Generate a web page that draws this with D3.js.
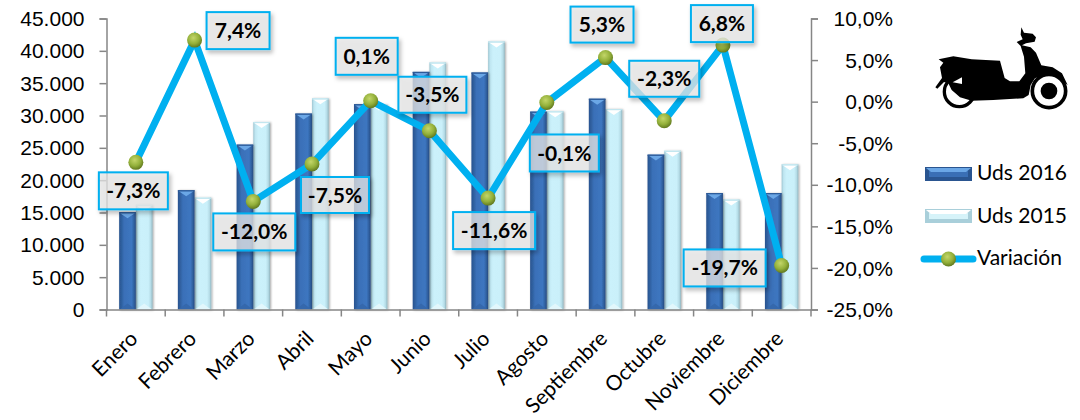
<!DOCTYPE html>
<html>
<head>
<meta charset="utf-8">
<script src="https://cdn.jsdelivr.net/npm/d3@7"></script>
<style>
  html, body { margin: 0; padding: 0; background: #fff; }
  svg { display: block; font-family: Lato, "Open Sans", sans-serif; }
  .tick-label { font-size: 21px; fill: #000; }
  .cat-label { font-size: 21px; fill: #000; }
  .legend-label { font-size: 21px; fill: #000; }
  .value-label { font-size: 21px; font-weight: 700; fill: #000; }
</style>
</head>
<body>
<div id="chart"></div>
<script>
// Data
const months = ['Enero', 'Febrero', 'Marzo', 'Abril', 'Mayo', 'Junio', 'Julio', 'Agosto', 'Septiembre', 'Octubre', 'Noviembre', 'Diciembre'];
const uds2016 = [15050, 18450, 25500, 30300, 31750, 36750, 36650, 30600, 32600, 23950, 18000, 18000];
const uds2015 = [16200, 17300, 29000, 32650, 31700, 38200, 41450, 30650, 31000, 24550, 17000, 22450];
const variacion = [-7.3, 7.4, -12.0, -7.5, 0.1, -3.5, -11.6, -0.1, 5.3, -2.3, 6.8, -19.7];
const leftTicks = [0, 5000, 10000, 15000, 20000, 25000, 30000, 35000, 40000, 45000];
const rightTicks = [-25, -20, -15, -10, -5, 0, 5, 10];

// Label box offset from its marker, left/top/right/bottom (the boxes were dragged by hand in the original)
const labelBoxes = [
  [-37, 10, 32, 47], [12, -28, 75, 9], [-40, 12, 42, 49], [-11, 13, 57, 49],
  [-35, -63, 27, -26], [-31, -54, 37, -18], [-35, 14, 47, 51], [-17, 32, 52, 69],
  [-35, -51, 28, -15], [-35, -60, 35, -24], [-32, -40, 30, -3], [-98, -16, -16, 21]
];

const W = 1080, H = 420;
const plot = { left: 106.5, right: 811, top: 18.5, bottom: 309.5 };

const svg = d3.select('#chart').append('svg').attr('width', W).attr('height', H);
const defs = svg.append('defs');

function hGrad(id, stops) {
  const g = defs.append('linearGradient').attr('id', id);
  stops.forEach(s => g.append('stop').attr('offset', s[0]).attr('stop-color', s[1]));
}
hGrad('bar16', [[0, '#2a5390'], [0.14, '#2f609f'], [0.3, '#3a70b8'], [0.75, '#3d76c0'], [0.9, '#2f5f9e'], [1, '#26497e']]);
hGrad('bar15', [[0, '#9fc6d2'], [0.12, '#bfe6f1'], [0.3, '#cbf1fb'], [0.75, '#caf0fa'], [0.9, '#b4dbe6'], [1, '#8fb3bd']]);

const ball = defs.append('radialGradient').attr('id', 'ball').attr('cx', '42%').attr('cy', '35%').attr('r', '65%');
ball.append('stop').attr('offset', 0).attr('stop-color', '#c3d669');
ball.append('stop').attr('offset', 0.6).attr('stop-color', '#93b03a');
ball.append('stop').attr('offset', 1).attr('stop-color', '#627a1f');

const shadow = defs.append('filter').attr('id', 'boxShadow')
  .attr('x', '-20%').attr('y', '-20%').attr('width', '150%').attr('height', '150%');
shadow.append('feDropShadow').attr('dx', 2).attr('dy', 3).attr('stdDeviation', 2)
  .attr('flood-color', '#000').attr('flood-opacity', 0.3);

const barShadow = defs.append('filter').attr('id', 'barShadow')
  .attr('x', '-30%').attr('y', '-5%').attr('width', '160%').attr('height', '110%');
barShadow.append('feDropShadow').attr('dx', 1).attr('dy', 0.5).attr('stdDeviation', 0.8)
  .attr('flood-color', '#000').attr('flood-opacity', 0.35);

// Scales
const x = d3.scaleBand().domain(months).range([plot.left, plot.right]);
const inner = d3.scaleBand().domain(['u16', 'u15']).range([0, 33.4]);
const barOffset = (x.bandwidth() - inner.range()[1]) / 2;
const yLeft = d3.scaleLinear().domain([0, 45000]).range([plot.bottom, plot.top]);
const yRight = d3.scaleLinear().domain([-25, 10]).range([plot.bottom, plot.top]);

const numLocale = d3.formatLocale({ decimal: ',', thousands: '.', grouping: [3], currency: ['', ''], minus: '-' });
const fmtUds = numLocale.format(',.0f');
const fmtPct = numLocale.format('.1f');

const palette = {
  u16: { fill: 'url(#bar16)', body: '#3a6fb5', top: '#6ba7e6', bottom: '#3568ac', edge: '#2c5a98', low: '#2a5590' },
  u15: { fill: 'url(#bar15)', body: '#d6f3f9', top: '#ffffff', bottom: '#e2f7fc', edge: '#c2e6ef', low: '#a9cfda' }
};

// Bevelled column like the Office "3D" shape style
function bevelBar(sel, bx, by, bw, bh, kind) {
  const c = palette[kind];
  const bevel = Math.min(bw / 2, 6);
  sel.append('rect').attr('x', bx).attr('y', by).attr('width', bw).attr('height', bh)
    .attr('fill', c.fill).attr('filter', 'url(#barShadow)');
  sel.append('path')
    .attr('d', `M${bx + 1},${by + 1}H${bx + bw - 1}L${bx + bw / 2},${by + bevel}Z`)
    .attr('fill', c.top);
  sel.append('path')
    .attr('d', `M${bx + 1},${by + bh - 0.5}H${bx + bw - 1}L${bx + bw / 2},${by + bh - bevel}Z`)
    .attr('fill', c.bottom);
  sel.append('rect').attr('x', bx).attr('y', by).attr('width', bw).attr('height', 1.2).attr('fill', c.edge);
}

// Legend key is the same bevel, on a wide flat shape
function legendKey(sel, bx, by, bw, bh, kind) {
  const c = palette[kind];
  sel.append('rect').attr('x', bx).attr('y', by).attr('width', bw).attr('height', bh).attr('fill', c.low);
  sel.append('rect').attr('x', bx + 4).attr('y', by + 4).attr('width', bw - 8).attr('height', bh - 8).attr('fill', c.body);
  sel.append('path')
    .attr('d', `M${bx + 1},${by + 1}H${bx + bw - 1}L${bx + bw - 6},${by + 5}H${bx + 6}Z`)
    .attr('fill', c.top);
}

// Bars
const series = [{ key: 'u15', values: uds2015 }, { key: 'u16', values: uds2016 }];
series.forEach(s => {
  svg.append('g').selectAll('g').data(s.values).join('g').each(function(v, i) {
    const bx = x(months[i]) + barOffset + inner(s.key);
    bevelBar(d3.select(this), bx, yLeft(v), inner.bandwidth(), yLeft(0) - yLeft(v), s.key);
  });
});

// Axes
const axisColor = '#868686';
function styleAxis(g) {
  g.selectAll('path, line').attr('stroke', axisColor).attr('stroke-width', 1.5);
  g.select('.domain').attr('fill', 'none');
}

const leftAxis = svg.append('g').attr('transform', `translate(${plot.left},0)`)
  .call(d3.axisLeft(yLeft).tickValues(leftTicks).tickSize(7).tickSizeOuter(7).tickFormat(fmtUds))
  .call(styleAxis);
leftAxis.selectAll('text').attr('class', 'tick-label').attr('x', -22).attr('dy', '0.34em');

const rightAxis = svg.append('g').attr('transform', `translate(${plot.right},0)`)
  .call(d3.axisRight(yRight).tickValues(rightTicks).tickSize(7).tickSizeOuter(7).tickFormat(d => fmtPct(d) + '%'))
  .call(styleAxis);
rightAxis.selectAll('text').attr('class', 'tick-label').attr('text-anchor', 'end').attr('x', 82).attr('dy', '0.34em');

const bottomAxis = svg.append('g').attr('transform', `translate(0,${plot.bottom})`)
  .call(d3.axisBottom(x).tickValues([]).tickSize(0))
  .call(styleAxis);
bottomAxis.selectAll('.sep').data(d3.range(months.length + 1)).join('line')
  .attr('class', 'sep')
  .attr('x1', i => plot.left + i * x.bandwidth()).attr('x2', i => plot.left + i * x.bandwidth())
  .attr('y1', 0).attr('y2', 7)
  .attr('stroke', axisColor).attr('stroke-width', 1.5);
svg.append('g').selectAll('text').data(months).join('text')
  .attr('class', 'cat-label')
  .attr('text-anchor', 'end')
  .attr('transform', d => `translate(${x(d) + x.bandwidth() / 2 + 3},${plot.bottom + 30.5}) rotate(-45)`)
  .text(d => d);

// Line and markers
const cx = i => x(months[i]) + x.bandwidth() / 2;
const line = d3.line().x((d, i) => cx(i)).y(d => yRight(d));
svg.append('path').datum(variacion).attr('d', line)
  .attr('fill', 'none').attr('stroke', '#00b0f0').attr('stroke-width', 7).attr('stroke-linejoin', 'miter');
svg.append('g').selectAll('circle').data(variacion).join('circle')
  .attr('cx', (d, i) => cx(i)).attr('cy', d => yRight(d)).attr('r', 7.5)
  .attr('fill', 'url(#ball)');

// Value labels, on top of everything
const labels = svg.append('g').selectAll('g').data(variacion).join('g');
labels.append('rect')
  .attr('x', (d, i) => cx(i) + labelBoxes[i][0])
  .attr('y', (d, i) => yRight(d) + labelBoxes[i][1])
  .attr('width', (d, i) => labelBoxes[i][2] - labelBoxes[i][0])
  .attr('height', (d, i) => labelBoxes[i][3] - labelBoxes[i][1])
  .attr('fill', '#e9e9e9').attr('fill-opacity', 0.72)
  .attr('stroke', '#00b0f0').attr('stroke-width', 2)
  .attr('filter', 'url(#boxShadow)');
labels.append('text')
  .attr('class', 'value-label')
  .attr('text-anchor', 'middle').attr('dy', '0.36em')
  .attr('x', (d, i) => cx(i) + (labelBoxes[i][0] + labelBoxes[i][2]) / 2)
  .attr('y', (d, i) => yRight(d) + (labelBoxes[i][1] + labelBoxes[i][3]) / 2)
  .text(d => fmtPct(d) + '%');

// Legend
const legend = svg.append('g');
legendKey(legend.append('g'), 925, 167, 47, 14, 'u16');
legendKey(legend.append('g'), 925, 209, 47, 14, 'u15');
legend.append('line').attr('x1', 924).attr('x2', 973).attr('y1', 259).attr('y2', 259)
  .attr('stroke', '#00b0f0').attr('stroke-width', 7).attr('stroke-linecap', 'round');
legend.append('circle').attr('cx', 948.5).attr('cy', 259).attr('r', 7.5).attr('fill', 'url(#ball)');
legend.selectAll('text').data(['Uds 2016', 'Uds 2015', 'Variación']).join('text')
  .attr('class', 'legend-label')
  .attr('x', 977).attr('y', (d, i) => [180, 223, 265][i])
  .text(d => d);

// Scooter silhouette (picture in the original)
const scooter = svg.append('g').attr('transform', 'translate(900,10) scale(0.3333)');
scooter.append('circle').attr('cx', 178).attr('cy', 245).attr('r', 45)
  .attr('fill', '#fff').attr('stroke', '#000').attr('stroke-width', 10);
scooter.append('path').attr('fill', '#000').attr('d',
  'M364,52 L372,68 L398,71 L408,82 L404,95 L378,100 L366,106 L392,112 L408,128 L424,166 ' +
  'L458,172 L486,190 L503,225 L490,215 L465,198 L430,195 L405,205 L392,225 L386,255 L370,265 ' +
  'L280,270 L215,272 L180,262 L155,240 L145,220 L132,216 L112,236 L106,232 L126,204 L120,172 ' +
  'L130,158 L116,148 L160,139 L215,148 L300,152 L314,204 L330,214 L358,214 L376,190 ' +
  'L372,140 L362,108 L350,96 L368,88 L362,74 Z');
scooter.append('path').attr('fill', '#fff').attr('d', 'M158,217 L186,202 L186,222 Z');
scooter.append('circle').attr('cx', 447).attr('cy', 243).attr('r', 50)
  .attr('fill', '#fff').attr('stroke', '#000').attr('stroke-width', 11);
scooter.append('circle').attr('cx', 447).attr('cy', 243).attr('r', 25).attr('fill', '#000');
</script>
</body>
</html>
